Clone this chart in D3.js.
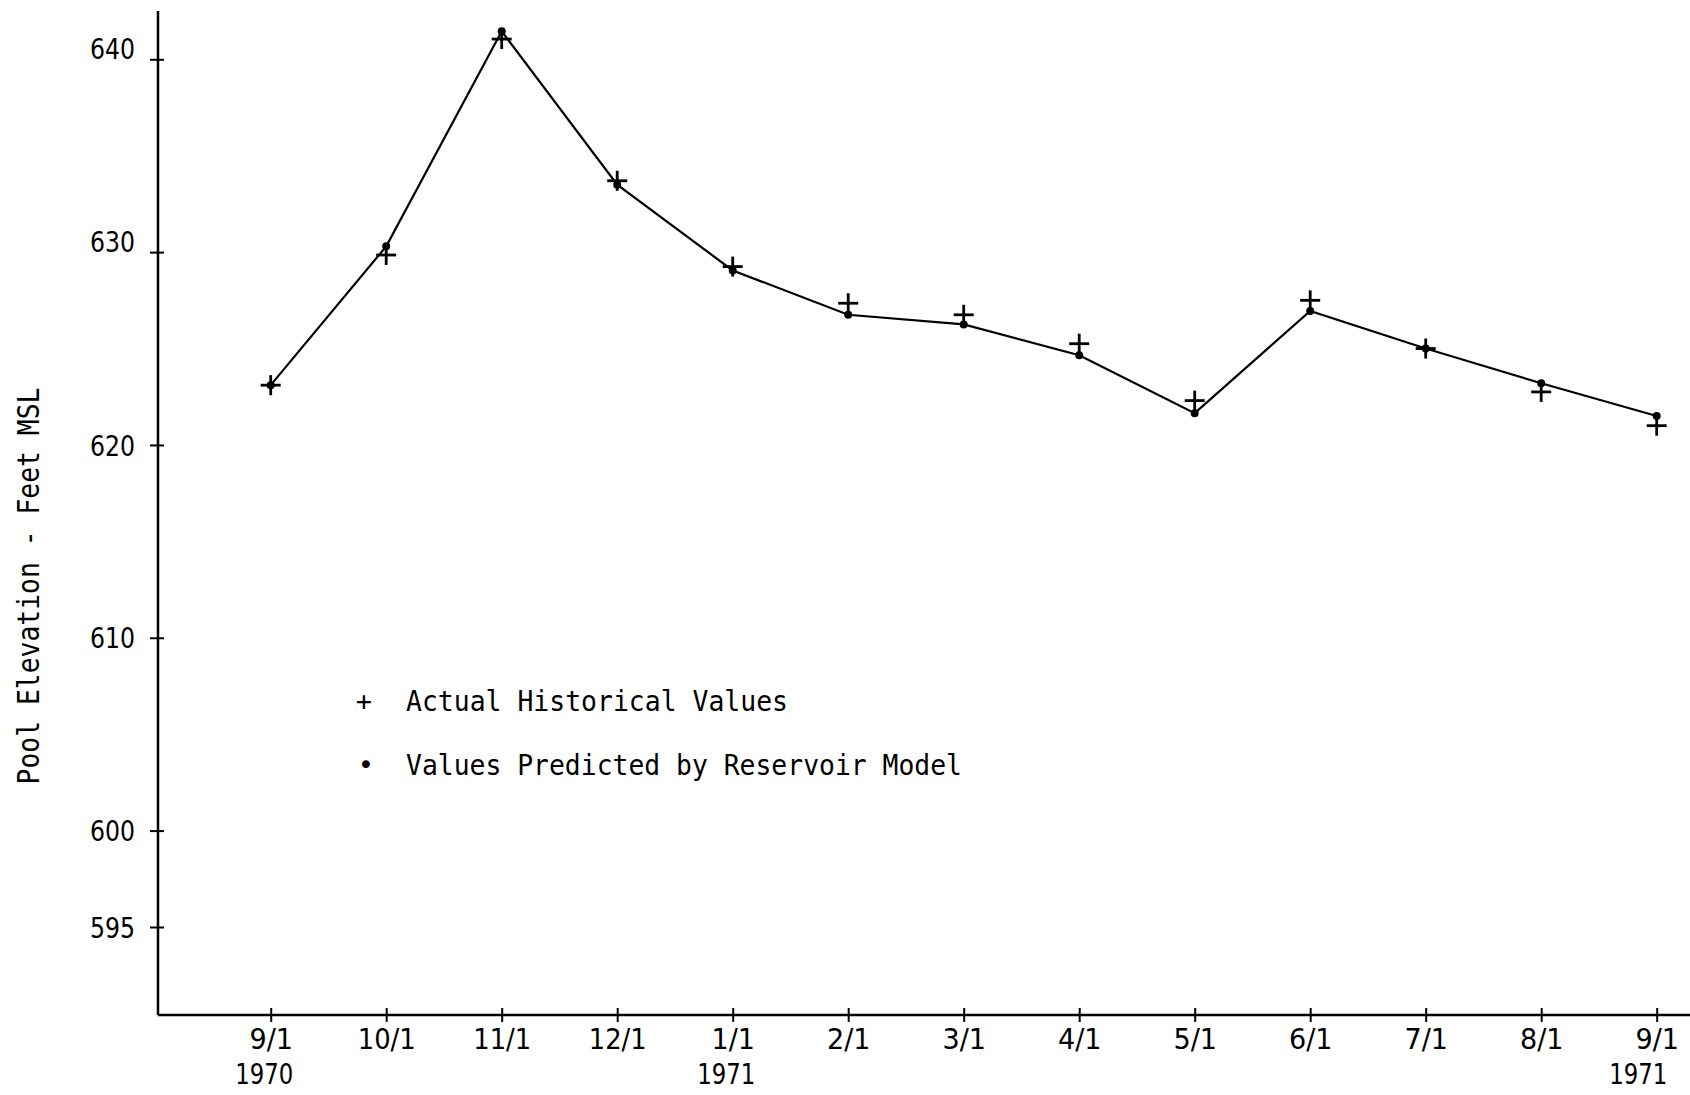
<!DOCTYPE html>
<html>
<head>
<meta charset="utf-8">
<script src="https://cdn.jsdelivr.net/npm/d3@7"></script>
<style>
  html, body { margin: 0; padding: 0; background: #fff; }
  svg { display: block; }
</style>
</head>
<body>
<svg id="chart" width="1690" height="1095"></svg>
<script>
// ---- data ----
const months = ["9/1 1970", "10/1", "11/1", "12/1", "1/1 1971", "2/1", "3/1", "4/1", "5/1", "6/1", "7/1", "8/1", "9/1 1971"];
const monthLabels = ["9/1", "10/1", "11/1", "12/1", "1/1", "2/1", "3/1", "4/1", "5/1", "6/1", "7/1", "8/1", "9/1"];
const yearLabels = ["1970", "", "", "", "1971", "", "", "", "", "", "", "", "1971"];
const actualValues = [623.1, 629.85, 641.05, 633.7, 629.25, 627.35, 626.75, 625.25, 622.3, 627.5, 625.0, 622.75, 621.0];
const predictedValues = [623.1, 630.3, 641.45, 633.5, 629.05, 626.75, 626.25, 624.65, 621.65, 626.95, 625.0, 623.2, 621.5];
const yTicks = [595, 600, 610, 620, 630, 640];
const yTitle = "Pool Elevation - Feet MSL";
const legendItems = ["Actual Historical Values", "Values Predicted by Reservoir Model"];

// ---- layout ----
const svg = d3.select("#chart");
const axisX = 158, axisY = 1015, axisTop = 11, axisRight = 1690;
const x = d3.scalePoint().domain(months).range([270.7, 1656.7]);
const y = d3.scaleLinear().domain([595, 640]).range([927, 59.3]);

const numFont = "'Liberation Sans Narrow', 'DejaVu Sans Condensed', 'Arial Narrow', sans-serif";
const monoFont = "'DejaVu Sans Mono', monospace";

// y axis
const yAxis = d3.axisLeft(y).tickValues(yTicks).tickSize(6).tickPadding(17).tickFormat(d3.format("d"));
const gy = svg.append("g").attr("transform", `translate(${axisX},0)`).call(yAxis);
gy.select(".domain").remove();
gy.selectAll(".tick line").attr("x1", -8).attr("x2", 6).attr("stroke", "#000").attr("stroke-width", 2);
gy.selectAll(".tick text").attr("font-family", numFont).attr("font-size", 28).attr("fill", "#000")
  .attr("dy", d => d >= 630 ? "-0.02em" : "0.36em")
  .attr("textLength", d => String(d).length * 15).attr("lengthAdjust", "spacingAndGlyphs");
svg.append("line").attr("x1", axisX).attr("x2", axisX).attr("y1", axisTop).attr("y2", axisY)
  .attr("stroke", "#000").attr("stroke-width", 2.5);

// x axis
const xAxis = d3.axisBottom(x).tickSize(7).tickPadding(0).tickFormat((d, i) => monthLabels[i]);
const gx = svg.append("g").attr("transform", `translate(0,${axisY})`).call(xAxis);
gx.select(".domain").remove();
gx.selectAll(".tick line").attr("y1", -7).attr("y2", 7).attr("stroke", "#000").attr("stroke-width", 2);
gx.selectAll(".tick text").attr("font-family", numFont).attr("font-size", 29).attr("fill", "#000")
  .attr("y", 34).attr("dy", 0)
  .attr("textLength", (d, i) => monthLabels[i].length * 14.5).attr("lengthAdjust", "spacingAndGlyphs");
gx.selectAll(".tick").append("text")
  .text((d, i) => yearLabels[i])
  .attr("y", 69).attr("text-anchor", "middle")
  .attr("x", (d, i) => i === months.length - 1 ? -19 : -7)
  .attr("textLength", (d, i) => yearLabels[i].length ? 58 : null)
  .attr("lengthAdjust", "spacingAndGlyphs")
  .attr("font-family", numFont).attr("font-size", 29).attr("fill", "#000");
svg.append("line").attr("x1", axisX).attr("x2", axisRight).attr("y1", axisY).attr("y2", axisY)
  .attr("stroke", "#000").attr("stroke-width", 2.5);

// y title
svg.append("text")
  .attr("transform", `translate(39,586) rotate(-90)`)
  .attr("text-anchor", "middle")
  .attr("font-family", monoFont).attr("font-size", 30)
  .attr("textLength", 397).attr("lengthAdjust", "spacingAndGlyphs")
  .attr("fill", "#000")
  .text(yTitle);

// line through predicted values
const line = d3.line().x((d, i) => x(months[i])).y(d => y(d));
svg.append("path").datum(predictedValues)
  .attr("d", line).attr("fill", "none").attr("stroke", "#000").attr("stroke-width", 2.2);

// predicted dots
svg.append("g").selectAll("circle").data(predictedValues).join("circle")
  .attr("cx", (d, i) => x(months[i])).attr("cy", d => y(d)).attr("r", 4).attr("fill", "#000");

// actual plus markers
const plusSize = 10;
const pg = svg.append("g").attr("stroke", "#000").attr("stroke-width", 2.8);
pg.selectAll("g").data(actualValues).join("g")
  .attr("transform", (d, i) => `translate(${x(months[i])},${y(d)})`)
  .each(function () {
    const g = d3.select(this);
    g.append("line").attr("x1", -plusSize).attr("x2", plusSize).attr("y1", 0).attr("y2", 0);
    g.append("line").attr("x1", 0).attr("x2", 0).attr("y1", -plusSize).attr("y2", plusSize);
  });

// legend
const legend = svg.append("g").attr("font-family", monoFont).attr("fill", "#000");
legend.append("text").attr("x", 364).attr("y", 710).attr("text-anchor", "middle").attr("font-size", 27).text("+");
legend.append("text").attr("x", 366).attr("y", 774).attr("text-anchor", "middle").attr("font-size", 27).text("•");
legend.append("text").attr("x", 406).attr("y", 711).attr("font-size", 28)
  .attr("textLength", 382).attr("lengthAdjust", "spacingAndGlyphs").text(legendItems[0]);
legend.append("text").attr("x", 406).attr("y", 775).attr("font-size", 28)
  .attr("textLength", 556).attr("lengthAdjust", "spacingAndGlyphs").text(legendItems[1]);
</script>
</body>
</html>
